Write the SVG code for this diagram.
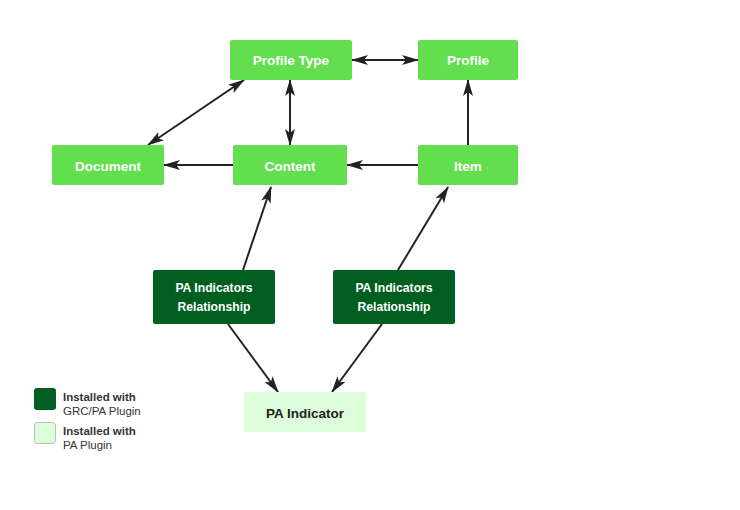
<svg xmlns="http://www.w3.org/2000/svg" width="740" height="510" viewBox="0 0 740 510">
<defs>
<marker id="ah" markerUnits="userSpaceOnUse" markerWidth="18" markerHeight="12" refX="16" refY="5" orient="auto-start-reverse" viewBox="0 0 18 10">
<path d="M0,0 L17,5 L0,10 L4,5 Z" fill="#222"/>
</marker>
<style>
.n rect{fill:#62de4f}
.d rect{fill:#005e21}
.l rect{fill:#ddfcda}
text{font-family:"Liberation Sans",Arial,sans-serif;font-weight:bold;font-size:13.5px;text-anchor:middle}
.n text,.d text{fill:#fff}
.d text{font-size:12.2px}
.l text{fill:#222}
.e line{stroke:#222;stroke-width:2;marker-end:url(#ah)}
.e line.b{marker-start:url(#ah)}
.lg text{text-anchor:start;font-size:11.5px;fill:#333}
.lg text.r{font-weight:normal}
</style>
</defs>
<rect width="740" height="510" fill="#fff"/>
<g class="e" id="connectors">
<line class="b" x1="352" y1="60" x2="418" y2="60"/>
<line class="b" x1="290" y1="80" x2="290" y2="145"/>
<line class="b" x1="148" y1="145" x2="244" y2="80"/>
<line x1="233" y1="165" x2="164" y2="165"/>
<line x1="418" y1="165" x2="347" y2="165"/>
<line x1="468" y1="145" x2="468" y2="80"/>
<line x1="243" y1="270" x2="271" y2="187"/>
<line x1="398" y1="270" x2="448" y2="187"/>
<line x1="228" y1="324" x2="278" y2="392"/>
<line x1="382" y1="324" x2="332" y2="392"/>
</g>
<g id="profile-type" class="n"><rect x="230" y="40" width="122" height="40" rx="2"/><text x="291" y="65">Profile Type</text></g>
<g id="profile" class="n"><rect x="418" y="40" width="100" height="40" rx="2"/><text x="468" y="65">Profile</text></g>
<g id="document" class="n"><rect x="52" y="145" width="112" height="40" rx="2"/><text x="108" y="171">Document</text></g>
<g id="content" class="n"><rect x="233" y="145" width="114" height="40" rx="2"/><text x="290" y="171">Content</text></g>
<g id="item" class="n"><rect x="418" y="145" width="100" height="40" rx="2"/><text x="468" y="171">Item</text></g>
<g id="rel1" class="d"><rect x="153" y="270" width="122" height="54" rx="2"/><text x="214" y="292">PA Indicators</text><text x="214" y="311">Relationship</text></g>
<g id="rel2" class="d"><rect x="333" y="270" width="122" height="54" rx="2"/><text x="394" y="292">PA Indicators</text><text x="394" y="311">Relationship</text></g>
<g id="pa-indicator" class="l"><rect x="244" y="392" width="122" height="40" rx="2"/><text x="305" y="418">PA Indicator</text></g>
<g id="legend" class="lg">
<rect x="34" y="388" width="22" height="22" rx="3" fill="#005e21"/>
<text x="63" y="401">Installed with</text><text class="r" x="63" y="415">GRC/PA Plugin</text>
<rect x="34.5" y="422.5" width="21" height="21" rx="3" fill="#ddfcda" stroke="#bbb"/>
<text x="63" y="435">Installed with</text><text class="r" x="63" y="449">PA Plugin</text>
</g>
</svg>
